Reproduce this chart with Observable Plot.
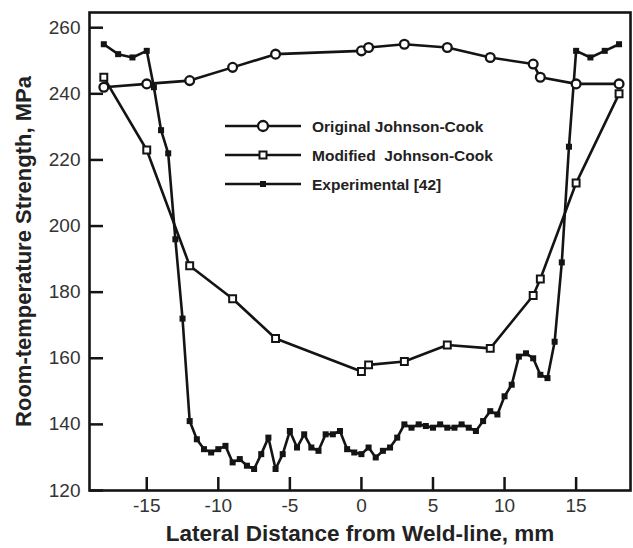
<!DOCTYPE html>
<html><head><meta charset="utf-8">
<script src="https://cdn.jsdelivr.net/npm/d3@7"></script>
<script src="https://cdn.jsdelivr.net/npm/@observablehq/plot@0.6"></script>
<style>
html,body{margin:0;padding:0;background:#fff;}
#wrap{position:relative;width:633px;height:548px;font-family:"Liberation Sans",Arial,Helvetica,sans-serif;}
#legend{position:absolute;left:0;top:0;pointer-events:none;}
</style></head><body><div id="wrap"></div>
<script>
const seriesNames = ["Original Johnson-Cook", "Modified  Johnson-Cook", "Experimental [42]"];

const originalX = [-18, -15, -12, -9, -6, 0, 0.5, 3, 6, 9, 12, 12.5, 15, 18];
const originalY = [242, 243, 244, 248, 252, 253, 254, 255, 254, 251, 249, 245, 243, 243];

const modifiedX = [-18, -15, -12, -9, -6, 0, 0.5, 3, 6, 9, 12, 12.5, 15, 18];
const modifiedY = [245, 223, 188, 178, 166, 156, 158, 159, 164, 163, 179, 184, 213, 240];

const experimentalX = [-18, -17, -16, -15, -14.5, -14, -13.5, -13, -12.5, -12, -11.5, -11, -10.5, -10, -9.5, -9, -8.5, -8, -7.5, -7, -6.5, -6, -5.5, -5, -4.5, -4, -3.5, -3, -2.5, -2, -1.5, -1, -0.5, 0, 0.5, 1, 1.5, 2, 2.5, 3, 3.5, 4, 4.5, 5, 5.5, 6, 6.5, 7, 7.5, 8, 8.5, 9, 9.5, 10, 10.5, 11, 11.5, 12, 12.5, 13, 13.5, 14, 14.5, 15, 16, 17, 18];
const experimentalY = [255, 252, 251, 253, 242, 229, 222, 196, 172, 141, 135.5, 132.5, 131.5, 132.5, 133.5, 128.5, 129.5, 127.5, 126.5, 131, 136, 126.5, 131, 138, 133, 137, 133, 132, 137, 137, 138, 132.5, 131.5, 131, 133, 130, 132, 133, 136, 140, 139, 140, 139.5, 139, 140, 139, 139, 140, 139, 138, 141, 144, 143, 148.5, 152, 160.5, 161.5, 160, 155, 154, 165, 189, 224, 253, 251, 253, 255];

const xTicks = [-15, -10, -5, 0, 5, 10, 15];
const yTicks = [120, 140, 160, 180, 200, 220, 240, 260];
const xDomain = [-19, 18.8];
const yDomain = [120, 264.6];
const xLabel = "Lateral Distance from Weld-line, mm";
const yLabel = "Room-temperature Strength, MPa";

const toRows = (name, xs, ys) => xs.map((x, i) => ({series: name, x, y: ys[i]}));
const original = toRows(seriesNames[0], originalX, originalY);
const modified = toRows(seriesNames[1], modifiedX, modifiedY);
const experimental = toRows(seriesNames[2], experimentalX, experimentalY);

const ink = "#141414";
const font = '"Liberation Sans", Arial, Helvetica, sans-serif';

const chart = Plot.plot({
  width: 633,
  height: 548,
  marginLeft: 89,
  marginRight: 3,
  marginTop: 12,
  marginBottom: 58,
  style: {fontFamily: font, background: "#fff", overflow: "visible"},
  x: {domain: xDomain},
  y: {domain: yDomain},
  marks: [
    Plot.axisY({ticks: yTicks, tickSize: -14, tickPadding: 23, fontSize: 19, stroke: ink, fill: "#333", strokeWidth: 2.5, label: null, tickFormat: d => String(d)}),
    Plot.axisX({ticks: xTicks, tickSize: -13, tickPadding: 21, fontSize: 19, stroke: ink, fill: "#333", strokeWidth: 2.5, label: null, tickFormat: d => String(d)}),
    Plot.frame({stroke: ink, strokeWidth: 2.6}),
    Plot.line(experimental, {x: "x", y: "y", stroke: ink, strokeWidth: 2.6}),
    Plot.line(modified, {x: "x", y: "y", stroke: ink, strokeWidth: 2.6}),
    Plot.line(original, {x: "x", y: "y", stroke: ink, strokeWidth: 2.6}),
    Plot.dot(experimental, {x: "x", y: "y", symbol: "square", r: 3.4, fill: ink, stroke: "none"}),
    Plot.dot(modified, {x: "x", y: "y", symbol: "square", r: 3.9, fill: "white", stroke: ink, strokeWidth: 2}),
    Plot.dot(original, {x: "x", y: "y", r: 4.4, fill: "white", stroke: ink, strokeWidth: 2.3}),
    Plot.text([xLabel], {frameAnchor: "bottom", lineAnchor: "middle", textAnchor: "middle", dy: 43, fontSize: 22.5, fontWeight: "bold", fill: "#222", text: d => d}),
    Plot.text([yLabel], {frameAnchor: "left", lineAnchor: "middle", textAnchor: "middle", dx: -66, rotate: -90, fontSize: 22, fontWeight: "bold", fill: "#222", text: d => d})
  ]
});

const wrap = document.getElementById("wrap");
wrap.appendChild(chart);

// Legend overlay
const legend = d3.create("svg")
  .attr("id", "legend")
  .attr("width", 633)
  .attr("height", 548);
const rowsY = [126, 155, 184];
seriesNames.forEach((name, i) => {
  const g = legend.append("g").attr("transform", `translate(0,${rowsY[i]})`);
  g.append("line").attr("x1", 225).attr("x2", 301).attr("y1", 0).attr("y2", 0)
    .attr("stroke", ink).attr("stroke-width", 2.6);
  if (i === 0) {
    g.append("circle").attr("cx", 263).attr("cy", 0).attr("r", 5)
      .attr("fill", "white").attr("stroke", ink).attr("stroke-width", 2.3);
  } else if (i === 1) {
    g.append("rect").attr("x", 259.5).attr("y", -3.5).attr("width", 7).attr("height", 7)
      .attr("fill", "white").attr("stroke", ink).attr("stroke-width", 2);
  } else {
    g.append("rect").attr("x", 260).attr("y", -3).attr("width", 6).attr("height", 6)
      .attr("fill", ink);
  }
  g.append("text").attr("x", 312).attr("y", 0).attr("dy", "0.36em")
    .attr("font-family", font).attr("font-size", 15.5).attr("font-weight", "bold")
    .attr("fill", "#222").style("white-space", "pre").text(name);
});
wrap.appendChild(legend.node());
</script>
</body></html>
